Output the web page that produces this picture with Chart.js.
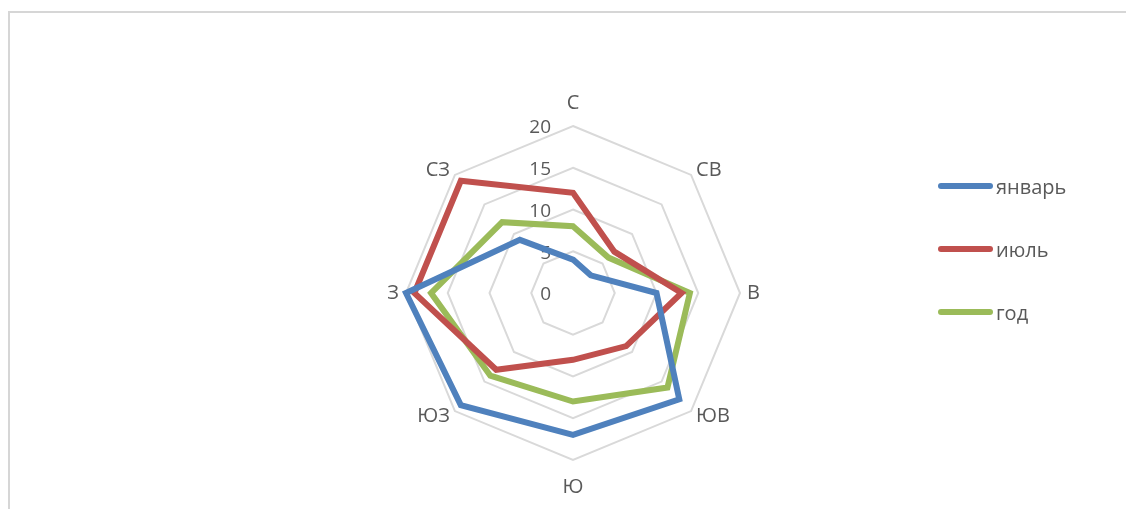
<!DOCTYPE html>
<html>
<head>
<meta charset="utf-8">
<script src="https://cdn.jsdelivr.net/npm/chart.js@4/dist/chart.umd.min.js"></script>
<style>
  html, body { margin: 0; padding: 0; background: #fff; }
  #wrap { position: relative; width: 1126px; height: 509px; overflow: hidden; }
  #frame { position: absolute; left: 8px; top: 11px; width: 1200px; height: 600px;
           border-left: 2px solid #d6d6d6; border-top: 2px solid #d6d6d6; }
  canvas { position: absolute; left: 0; top: 0; }
  .lg { position: absolute; left: 938px; height: 26px; display: flex; align-items: center;
        font-family: "Open Sans", sans-serif; font-size: 20px; color: #595959; }
  .lg .sw { width: 55px; height: 6px; border-radius: 3px; margin-right: 3px; }
</style>
</head>
<body>
<div id="wrap">
  <div id="frame"></div>
  <canvas id="c" width="1126" height="509"></canvas>
  <div id="legend"></div>
</div>
<script>
const categories = ['С', 'СВ', 'В', 'ЮВ', 'Ю', 'ЮЗ', 'З', 'СЗ'];
const seriesNames = ['январь', 'июль', 'год'];
const january = [4, 3, 10, 18, 17, 19, 20, 9];
const july = [12, 7, 13, 9, 8, 13, 19, 19];
const year = [8, 6, 14, 16, 13, 14, 17, 12];
const tickValues = [0, 5, 10, 15, 20];
const colors = ['#4F81BD', '#C0504D', '#9BBB59'];

const seriesData = [january, july, year];

const legend = document.getElementById('legend');
const legendY = [173, 236, 299];
seriesNames.forEach((n, i) => {
  const d = document.createElement('div');
  d.className = 'lg';
  d.style.top = legendY[i] + 'px';
  const s = document.createElement('span');
  s.className = 'sw';
  s.style.background = colors[i];
  const t = document.createElement('span');
  t.textContent = n;
  d.appendChild(s); d.appendChild(t);
  legend.appendChild(d);
});

const labelPlugin = {
  id: 'axisText',
  beforeDatasetsDraw(chart) {
    const s = chart.scales.r;
    const ctx = chart.ctx;
    ctx.save();
    ctx.fillStyle = '#595959';
    // tick labels, left of the vertical axis
    ctx.font = '19px "Open Sans", sans-serif';
    ctx.textAlign = 'right';
    ctx.textBaseline = 'middle';
    tickValues.forEach(v => {
      const d = s.getDistanceFromCenterForValue(v);
      ctx.fillText(String(v), s.xCenter - 22, s.yCenter - d + 2);
    });
    // category labels around the outer ring
    ctx.font = '20px "Open Sans", sans-serif';
    categories.forEach((c, i) => {
      const probe = s.getPointPosition(i, 10);
      const dx = probe.x - s.xCenter, dy = probe.y - s.yCenter;
      const vertical = Math.abs(dx) < 1;
      const pad = vertical ? 13 : 7;
      const p = s.getPointPosition(i, s.drawingArea + pad);
      if (vertical) {
        ctx.textAlign = 'center';
        ctx.textBaseline = dy < 0 ? 'bottom' : 'top';
      } else {
        ctx.textAlign = dx > 0 ? 'left' : 'right';
        ctx.textBaseline = 'middle';
      }
      ctx.fillText(c, p.x, p.y + (vertical ? (dy < 0 ? 0 : 4) : 0));
    });
    ctx.restore();
  }
};

new Chart(document.getElementById('c'), {
  type: 'radar',
  data: {
    labels: categories,
    datasets: seriesNames.map((n, i) => ({
      label: n,
      data: seriesData[i],
      borderColor: colors[i],
      backgroundColor: 'transparent',
      borderWidth: 6,
      pointRadius: 0,
      pointHoverRadius: 0,
      fill: false,
      tension: 0
    }))
  },
  options: {
    responsive: false,
    animation: false,
    events: [],
    layout: { padding: { top: 126, bottom: 49, left: 323, right: 303 } },
    plugins: { legend: { display: false }, tooltip: { enabled: false } },
    scales: {
      r: {
        min: 0,
        max: 20,
        beginAtZero: true,
        ticks: { display: false, stepSize: 5 },
        grid: { color: '#d9d9d9', lineWidth: 2 },
        angleLines: { display: false },
        pointLabels: { display: false }
      }
    }
  },
  plugins: [labelPlugin]
});
</script>
</body>
</html>
